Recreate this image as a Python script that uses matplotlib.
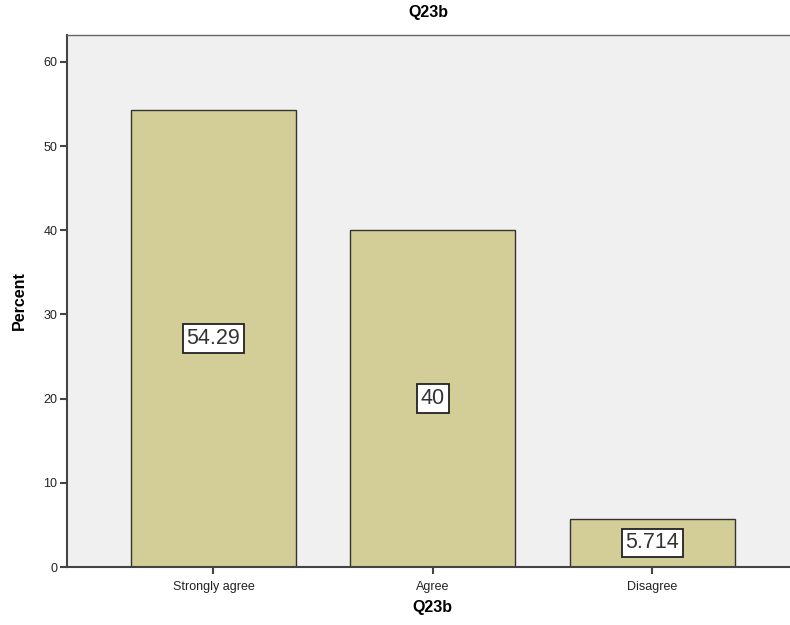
import matplotlib.pyplot as plt

plt.rcParams["font.family"] = ["Liberation Sans", "DejaVu Sans"]

categories = ["Strongly agree", "Agree", "Disagree"]
percents = [54.29, 40.0, 5.714]
value_labels = ["54.29", "40", "5.714"]
y_ticks = [0, 10, 20, 30, 40, 50, 60]

fig = plt.figure(figsize=(7.9, 6.25), dpi=100)
ax = fig.add_axes([67 / 790, 1 - 567 / 625, 731.7 / 790, (567 - 35) / 625])
ax.set_facecolor("#F0F0F0")

x = list(range(len(categories)))
ax.bar(x, percents, width=0.752, color="#D3CE97", edgecolor="#333333", linewidth=1.0, zorder=2)

for xi, v, lab in zip(x, percents, value_labels):
    ax.text(xi, v / 2, lab, ha="center", va="center", fontsize=15.5, color="#333333", zorder=3,
            bbox=dict(boxstyle="square,pad=0.18", facecolor="white", edgecolor="#222222", linewidth=1.3))

ax.set_xlim(-0.667, 2.667)
ax.set_ylim(0, 63.2)
ax.set_xticks(x)
ax.set_xticklabels(categories, fontsize=9)
ax.set_yticks(y_ticks)
ax.set_yticklabels([str(t) for t in y_ticks], fontsize=9)
ax.tick_params(axis="both", direction="out", length=5, width=1.5, color="#444444", pad=2,
               labelcolor="#222222")
ax.tick_params(axis="x", pad=5)

for side in ["left", "bottom"]:
    ax.spines[side].set_color("#444444")
    ax.spines[side].set_linewidth(1.5)
for side in ["top", "right"]:
    ax.spines[side].set_color("#666666")
    ax.spines[side].set_linewidth(1.0)

ax.set_xlabel("Q23b", fontsize=11.5, fontweight="bold", labelpad=5)
ax.set_ylabel("Percent", fontsize=11.5, fontweight="bold", labelpad=12)
fig.text(428 / 790, 1 - 12 / 625, "Q23b", ha="center", va="center", fontsize=11.5, fontweight="bold")

fig.savefig("out.png", dpi=100)
